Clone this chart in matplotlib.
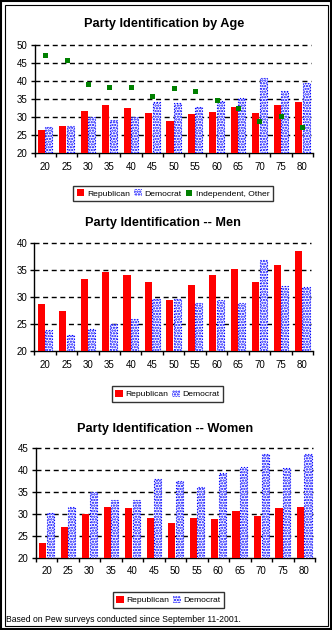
#!/usr/bin/env python3
"""Party identification by age: all adults, men and women (three stacked panels)."""

import matplotlib

matplotlib.use("Agg")

import matplotlib.pyplot as plt
from matplotlib.lines import Line2D
from matplotlib.patches import Patch, Rectangle
import numpy as np

AGES = ["20", "25", "30", "35", "40", "45", "50", "55", "60", "65", "70", "75", "80"]

ALL_REP = [26.5, 27.6, 31.7, 33.4, 32.6, 31.2, 29.0, 30.9, 31.4, 32.8, 31.2, 33.4, 34.2]
ALL_DEM = [27.3, 27.5, 30.0, 29.2, 30.0, 34.2, 34.0, 32.8, 34.5, 35.3, 40.9, 37.4, 39.5]
ALL_IND = [47.4, 45.9, 39.3, 38.3, 38.3, 35.8, 38.1, 37.2, 34.9, 32.6, 29.1, 30.4, 27.3]

MEN_REP = [28.8, 27.5, 33.4, 34.7, 34.1, 32.8, 29.5, 32.3, 34.1, 35.2, 32.8, 36.0, 38.6]
MEN_DEM = [24.0, 23.0, 24.1, 25.1, 26.0, 29.7, 29.7, 29.0, 29.5, 29.0, 36.9, 32.1, 31.9]

WOMEN_REP = [23.4, 27.1, 30.0, 31.6, 31.4, 29.1, 28.0, 29.1, 28.9, 30.7, 29.6, 31.4, 31.6]
WOMEN_DEM = [30.3, 31.6, 35.0, 33.2, 33.2, 38.0, 37.6, 36.2, 39.4, 40.7, 43.7, 40.5, 43.7]

W, H = 332, 630
RED = "#ff0000"
BLUE = "#0000ff"
GREEN = "#008000"
FONT = "Liberation Sans"

plt.rcParams["font.family"] = FONT
plt.rcParams["hatch.linewidth"] = 1.1


def px_axes(fig, left, top, right, bottom):
    return fig.add_axes([left / W, 1 - bottom / H, (right - left) / W, (bottom - top) / H])


def draw_panel(ax, rep, dem, ymax, ind=None):
    x = np.arange(len(AGES))
    bw = 0.33
    ax.bar(x - bw / 2 - 0.01, rep, width=bw, bottom=0, color=RED, linewidth=0, zorder=3)
    ax.bar(x + bw / 2 + 0.01, dem, width=bw, color="white", edgecolor=BLUE,
           hatch="......", linewidth=0.8, linestyle=":", zorder=3)
    if ind is not None:
        ax.plot(x, ind, linestyle="none", marker="s", markersize=3.6,
                color=GREEN, markeredgewidth=0, zorder=4)

    ax.set_xlim(-0.5, len(AGES) - 0.5)
    ax.set_ylim(20, ymax)
    yt = np.arange(20, ymax + 1, 5)
    ax.set_yticks(yt)
    ax.set_yticklabels([str(v) for v in yt])
    for v in yt[1:]:
        ax.plot([-0.5, len(AGES) - 0.6], [v, v], color="black", linewidth=1.0,
                linestyle=(0, (3.6, 2.6)), zorder=2, clip_on=False)

    ax.set_xticks(x)
    ax.set_xticklabels(AGES)
    ax.set_xticks(np.arange(-0.5, len(AGES)), minor=True)
    ax.tick_params(axis="x", which="major", length=0, pad=6, labelsize=7)
    ax.tick_params(axis="x", which="minor", length=3, width=1, direction="out")
    ax.tick_params(axis="y", length=3, width=1, direction="out", pad=2, labelsize=7)

    for side in ("top", "right"):
        ax.spines[side].set_visible(False)
    for side in ("left", "bottom"):
        ax.spines[side].set_linewidth(1.0)
        ax.spines[side].set_color("black")
    ax.set_facecolor("white")


def add_legend(fig, cx, cy, with_ind):
    handles = [Patch(facecolor=RED, edgecolor="none", label="Republican"),
               Patch(facecolor="white", edgecolor=BLUE, hatch="......", linewidth=0,
                     label="Democrat")]
    if with_ind:
        handles.append(Line2D([], [], linestyle="none", marker="s", markersize=4,
                              color=GREEN, markeredgewidth=0, label="Independent, Other"))
    leg = fig.legend(handles=handles, loc="center", bbox_to_anchor=(cx / W, 1 - cy / H),
                     ncol=len(handles), fontsize=6.1, frameon=True, fancybox=False,
                     handlelength=0.9, handleheight=0.9, handletextpad=0.3,
                     columnspacing=0.5, borderpad=0.4, borderaxespad=0)
    frame = leg.get_frame()
    frame.set_edgecolor("black")
    frame.set_linewidth(1.0)


fig = plt.figure(figsize=(W / 100, H / 100), dpi=100)
fig.patch.set_facecolor("white")

# double border round the whole figure
fig.add_artist(Rectangle((1 / W, 1 / H), (W - 2) / W, (H - 2) / H, transform=fig.transFigure,
                         fill=False, edgecolor="black", linewidth=1.5))
fig.add_artist(Rectangle((4.5 / W, 4.5 / H), (W - 9) / W, (H - 9) / H, transform=fig.transFigure,
                         fill=False, edgecolor="black", linewidth=0.8))

ax1 = px_axes(fig, 34.5, 45.3, 313, 153.3)
draw_panel(ax1, ALL_REP, ALL_DEM, 50, ALL_IND)
fig.text(164 / W, 1 - 24 / H, "Party Identification by Age", ha="center", va="center",
         fontsize=9.2, fontweight="bold")
add_legend(fig, 173, 193.5, True)

ax2 = px_axes(fig, 34.3, 243.3, 313, 351.3)
draw_panel(ax2, MEN_REP, MEN_DEM, 40)
fig.text(163 / W, 1 - 223.3 / H, "Party Identification -- Men", ha="center", va="center",
         fontsize=9.2, fontweight="bold")
add_legend(fig, 167.5, 394, False)

ax3 = px_axes(fig, 35.7, 448.3, 315, 558)
draw_panel(ax3, WOMEN_REP, WOMEN_DEM, 45)
fig.text(165 / W, 1 - 429 / H, "Party Identification -- Women", ha="center", va="center",
         fontsize=9.2, fontweight="bold")
add_legend(fig, 168.5, 600, False)

fig.text(6 / W, 1 - 619 / H, "Based on Pew surveys conducted since September 11-2001.",
         ha="left", va="center", fontsize=6.2)

fig.savefig("out.png", dpi=100, facecolor="white")
